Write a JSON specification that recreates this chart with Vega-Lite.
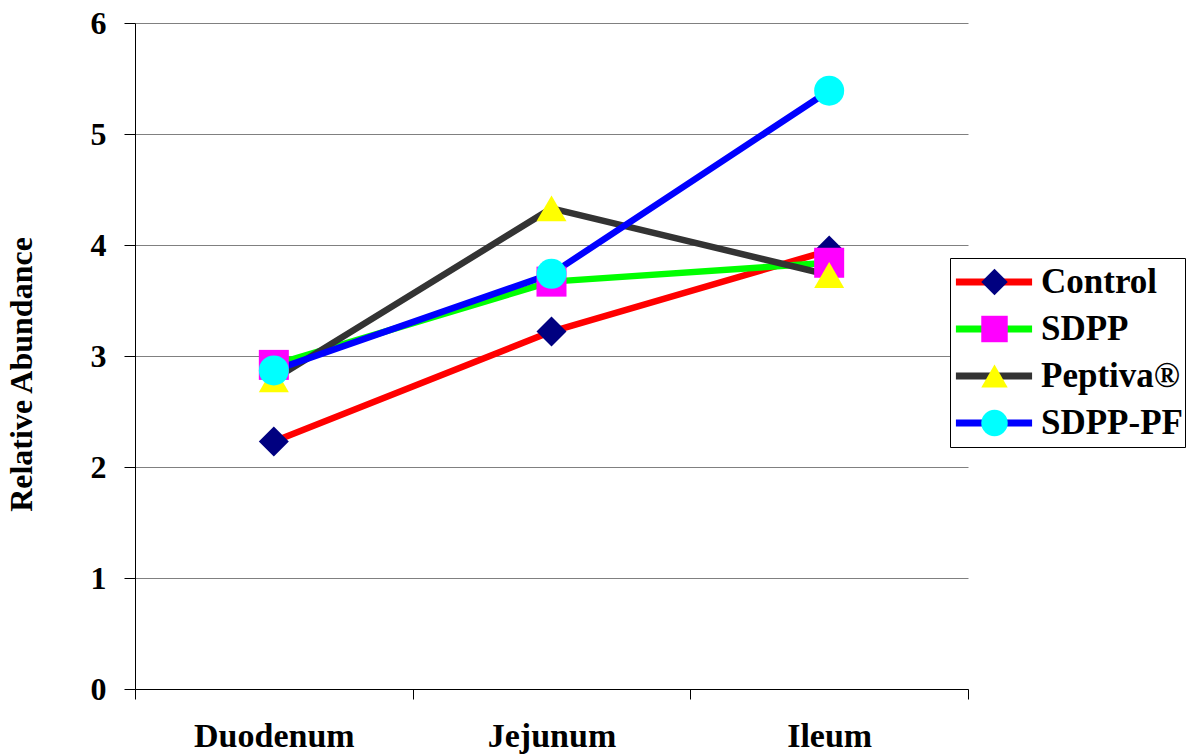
{
  "$schema": "https://vega.github.io/schema/vega-lite/v6.json",
  "width": 833,
  "height": 666,
  "autosize": {"type": "none"},
  "padding": {"left": 135, "top": 23, "right": 227, "bottom": 66},
  "background": "white",
  "config": {"view": {"stroke": null}, "font": "Liberation Serif"},
  "data": {
    "values": [
      {"series": "Control", "segment": "Duodenum", "abundance": 2.23},
      {"series": "Control", "segment": "Jejunum", "abundance": 3.22},
      {"series": "Control", "segment": "Ileum", "abundance": 3.95},
      {"series": "SDPP", "segment": "Duodenum", "abundance": 2.92},
      {"series": "SDPP", "segment": "Jejunum", "abundance": 3.67},
      {"series": "SDPP", "segment": "Ileum", "abundance": 3.84},
      {"series": "Peptiva®", "segment": "Duodenum", "abundance": 2.79},
      {"series": "Peptiva®", "segment": "Jejunum", "abundance": 4.33},
      {"series": "Peptiva®", "segment": "Ileum", "abundance": 3.73},
      {"series": "SDPP-PF", "segment": "Duodenum", "abundance": 2.87},
      {"series": "SDPP-PF", "segment": "Jejunum", "abundance": 3.74},
      {"series": "SDPP-PF", "segment": "Ileum", "abundance": 5.39}
    ]
  },
  "encoding": {
    "x": {
      "field": "segment",
      "type": "nominal",
      "sort": ["Duodenum", "Jejunum", "Ileum"],
      "scale": {"type": "band", "paddingInner": 0, "paddingOuter": 0},
      "axis": {
        "title": null,
        "tickBand": "extent",
        "grid": false,
        "labelAngle": 0,
        "domainColor": "black",
        "tickColor": "black",
        "tickSize": 10,
        "labelFont": "Liberation Serif",
        "labelFontWeight": "bold",
        "labelFontSize": 34,
        "labelColor": "black",
        "labelPadding": 20
      }
    },
    "y": {
      "field": "abundance",
      "type": "quantitative",
      "scale": {"domain": [0, 6], "nice": false},
      "axis": {
        "title": "Relative Abundance",
        "values": [0, 1, 2, 3, 4, 5, 6],
        "format": "d",
        "grid": true,
        "gridColor": "#808080",
        "gridWidth": 1,
        "domainColor": "black",
        "tickColor": "black",
        "tickSize": 11,
        "labelFont": "Liberation Serif",
        "labelFontWeight": "bold",
        "labelFontSize": 32,
        "labelColor": "black",
        "labelPadding": 18,
        "titleFont": "Liberation Serif",
        "titleFontWeight": "bold",
        "titleFontSize": 32,
        "titleColor": "black",
        "titlePadding": 52,
        "titleY": 351
      }
    }
  },
  "layer": [
    {
      "mark": {"type": "line", "strokeWidth": 6.5, "strokeCap": "round", "strokeJoin": "round"},
      "encoding": {
        "stroke": {
          "field": "series",
          "type": "nominal",
          "sort": ["Control", "SDPP", "Peptiva®", "SDPP-PF"],
          "scale": {"range": ["#FF0000", "#00FF00", "#333333", "#0000FF"]},
          "legend": {
            "title": null,
            "orient": "none",
            "legendX": 815,
            "legendY": 235,
            "symbolType": "stroke",
            "symbolSize": 5800,
            "symbolStrokeWidth": 7,
            "labelFont": "Liberation Serif",
            "labelFontWeight": "bold",
            "labelFontSize": 35,
            "labelColor": "black",
            "labelOffset": 5,
            "labelLimit": 400,
            "clipHeight": 44,
            "rowPadding": 3,
            "padding": 2,
            "strokeColor": "black",
            "fillColor": "white",
            "zindex": 0
          }
        }
      }
    },
    {
      "mark": {"type": "point", "filled": true, "size": 900, "opacity": 1, "strokeWidth": 0},
      "encoding": {
        "fill": {
          "field": "series",
          "type": "nominal",
          "scale": {
            "domain": ["Control", "SDPP", "Peptiva®", "SDPP-PF"],
            "range": ["#000080", "#FF00FF", "#FFFF00", "#00FFFF"]
          },
          "legend": {
            "title": null,
            "orient": "none",
            "legendX": 815,
            "legendY": 235,
            "symbolSize": 700,
            "symbolStrokeWidth": 0,
            "symbolOffset": 25,
            "symbolOpacity": 1,
            "labelFont": "Liberation Serif",
            "labelFontWeight": "bold",
            "labelFontSize": 35,
            "labelOpacity": 0,
            "labelExpr": "''",
            "labelLimit": 400,
            "clipHeight": 44,
            "rowPadding": 3,
            "padding": 2,
            "zindex": 1
          }
        },
        "shape": {
          "field": "series",
          "type": "nominal",
          "scale": {
            "domain": ["Control", "SDPP", "Peptiva®", "SDPP-PF"],
            "range": ["diamond", "square", "triangle-up", "circle"]
          },
          "legend": {
            "title": null,
            "orient": "none",
            "legendX": 815,
            "legendY": 235,
            "symbolSize": 700,
            "symbolStrokeWidth": 0,
            "symbolOffset": 25,
            "symbolOpacity": 1,
            "labelFont": "Liberation Serif",
            "labelFontWeight": "bold",
            "labelFontSize": 35,
            "labelOpacity": 0,
            "labelExpr": "''",
            "labelLimit": 400,
            "clipHeight": 44,
            "rowPadding": 3,
            "padding": 2,
            "zindex": 1
          }
        }
      }
    }
  ]
}
